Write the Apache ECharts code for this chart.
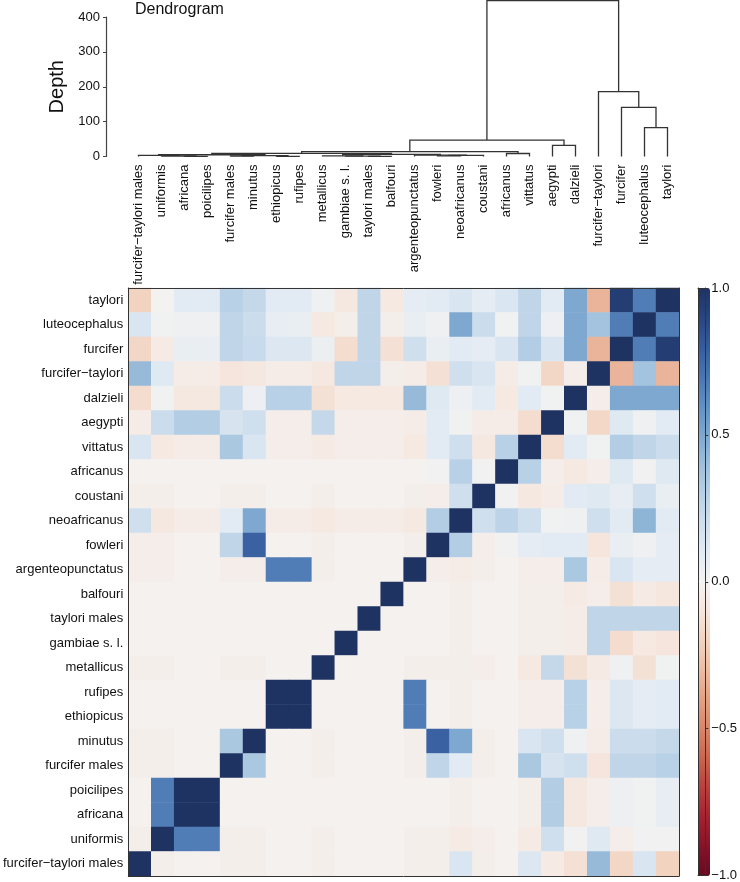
<!DOCTYPE html>
<html><head><meta charset="utf-8">
<script src="https://cdn.jsdelivr.net/npm/echarts@6/dist/echarts.min.js"></script>
<style>html,body{margin:0;padding:0;background:#fff}#c{width:740px;height:882px}</style>
</head><body><div id="c"></div>
<script>
// categories: left-to-right on x, bottom-to-top on y
const categories = ['furcifer−taylori males','uniformis','africana','poicilipes','furcifer males','minutus','ethiopicus','rufipes','metallicus','gambiae s. l.','taylori males','balfouri','argenteopunctatus','fowleri','neoafricanus','coustani','africanus','vittatus','aegypti','dalzieli','furcifer−taylori','furcifer','luteocephalus','taylori'];

// correlation rows, listed top row (taylori) to bottom row (furcifer-taylori males); columns follow `categories`
const corr = [
 [-0.2,0.0,0.1,0.1,0.3,0.25,0.1,0.1,0.03,-0.08,0.27,-0.07,0.08,0.1,0.15,0.08,0.14,0.27,0.1,0.5,-0.33,0.95,0.67,1.0],
 [0.15,0.02,0.03,0.03,0.27,0.22,0.07,0.06,-0.07,-0.03,0.27,-0.03,0.06,0.03,0.5,0.22,0.02,0.27,0.04,0.5,0.38,0.67,1.0,0.67],
 [-0.18,-0.06,0.06,0.06,0.27,0.23,0.13,0.13,0.05,-0.15,0.27,-0.13,0.2,0.06,0.1,0.08,0.15,0.32,0.15,0.5,-0.33,1.0,0.67,0.95],
 [0.42,0.12,-0.05,-0.05,-0.1,-0.08,-0.05,-0.05,-0.08,0.27,0.27,-0.03,-0.05,-0.13,0.2,0.15,-0.05,0.02,-0.18,-0.04,1.0,-0.33,0.38,-0.33],
 [-0.15,0.02,-0.08,-0.08,0.22,0.04,0.3,0.3,-0.12,-0.07,-0.07,-0.07,0.42,0.12,0.04,0.1,-0.07,0.1,0.02,1.0,-0.04,0.5,0.5,0.5],
 [-0.05,0.22,0.32,0.32,0.16,0.2,-0.04,-0.04,0.25,-0.04,-0.04,-0.04,-0.05,0.1,0.02,-0.05,-0.05,-0.15,1.0,0.02,-0.17,0.12,0.03,0.1],
 [0.15,-0.07,-0.05,-0.05,0.35,0.15,-0.04,-0.04,-0.06,-0.04,-0.04,-0.04,-0.07,0.1,0.2,-0.08,0.3,1.0,-0.15,0.1,0.02,0.32,0.27,0.22],
 [-0.01,-0.01,-0.01,-0.01,-0.01,-0.01,-0.01,-0.01,-0.01,-0.01,-0.01,-0.01,-0.01,0.01,0.3,0.01,1.0,0.3,-0.04,-0.07,-0.04,0.12,0.01,0.12],
 [-0.03,-0.03,-0.01,-0.01,-0.03,-0.03,-0.01,-0.01,-0.03,-0.01,-0.01,-0.01,-0.03,-0.04,0.2,1.0,0.01,-0.08,-0.05,0.1,0.12,0.07,0.2,0.06],
 [0.2,-0.08,-0.05,-0.05,0.1,0.5,-0.05,-0.05,-0.07,-0.05,-0.05,-0.05,-0.07,0.32,1.0,0.2,0.28,0.2,0.02,0.03,0.2,0.1,0.45,0.1],
 [-0.04,-0.04,-0.01,-0.01,0.27,0.78,-0.01,-0.01,-0.03,-0.01,-0.01,-0.01,-0.03,1.0,0.32,-0.04,0.01,0.08,0.1,0.1,-0.1,0.06,0.03,0.08],
 [-0.04,-0.04,-0.01,-0.01,-0.04,-0.04,0.67,0.67,-0.03,-0.01,-0.01,-0.01,1.0,-0.04,-0.05,-0.03,-0.01,-0.04,-0.04,0.35,-0.05,0.15,0.08,0.08],
 [-0.01,-0.01,-0.01,-0.01,-0.01,-0.01,-0.01,-0.01,-0.01,-0.01,-0.01,1.0,-0.01,-0.01,-0.03,-0.01,-0.01,-0.03,-0.03,-0.06,-0.04,-0.12,-0.06,-0.09],
 [-0.01,-0.01,-0.01,-0.01,-0.01,-0.01,-0.01,-0.01,-0.01,-0.01,1.0,-0.01,-0.01,-0.01,-0.03,-0.01,-0.01,-0.03,-0.03,-0.05,0.27,0.27,0.27,0.27],
 [-0.01,-0.01,-0.01,-0.01,-0.01,-0.01,-0.01,-0.01,-0.01,1.0,-0.01,-0.01,-0.01,-0.01,-0.03,-0.01,-0.01,-0.03,-0.03,-0.05,0.27,-0.15,-0.07,-0.1],
 [-0.03,-0.03,-0.01,-0.01,-0.03,-0.03,-0.01,-0.01,1.0,-0.01,-0.01,-0.01,-0.03,-0.03,-0.03,-0.04,-0.01,-0.07,0.25,-0.12,-0.06,0.03,-0.12,0.02],
 [-0.01,-0.01,-0.01,-0.01,-0.01,-0.01,1.0,1.0,-0.01,-0.01,-0.01,-0.01,0.67,-0.01,-0.03,-0.01,-0.01,-0.04,-0.04,0.3,-0.04,0.13,0.08,0.1],
 [-0.01,-0.01,-0.01,-0.01,-0.01,-0.01,1.0,1.0,-0.01,-0.01,-0.01,-0.01,0.67,-0.01,-0.03,-0.01,-0.01,-0.04,-0.04,0.3,-0.04,0.13,0.08,0.1],
 [-0.03,-0.03,-0.01,-0.01,0.35,1.0,-0.01,-0.01,-0.03,-0.01,-0.01,-0.01,-0.03,0.78,0.5,-0.03,-0.01,0.15,0.2,0.03,-0.05,0.22,0.22,0.25],
 [-0.03,-0.03,-0.01,-0.01,1.0,0.35,-0.01,-0.01,-0.03,-0.01,-0.01,-0.01,-0.03,0.27,0.1,-0.03,-0.01,0.35,0.16,0.2,-0.1,0.27,0.27,0.3],
 [-0.01,0.67,1.0,1.0,-0.01,-0.01,-0.01,-0.01,-0.01,-0.01,-0.01,-0.01,-0.01,-0.01,-0.03,-0.01,-0.01,-0.03,0.32,-0.08,-0.04,0.04,0.02,0.07],
 [-0.01,0.67,1.0,1.0,-0.01,-0.01,-0.01,-0.01,-0.01,-0.01,-0.01,-0.01,-0.01,-0.01,-0.03,-0.01,-0.01,-0.03,0.32,-0.08,-0.04,0.04,0.02,0.07],
 [-0.03,1.0,0.67,0.67,-0.03,-0.03,-0.01,-0.01,-0.03,-0.01,-0.01,-0.01,-0.03,-0.03,-0.06,-0.04,-0.01,-0.06,0.2,0.01,0.12,-0.04,0.01,0.01],
 [1.0,-0.03,-0.01,-0.01,-0.03,-0.03,-0.01,-0.01,-0.03,-0.01,-0.01,-0.01,-0.03,-0.03,0.15,-0.03,-0.01,0.13,-0.06,-0.13,0.42,-0.18,0.15,-0.2]
];

// dendrogram merges: leaves 0..23, merged nodes numbered 24.. in order
const mergeLeft  = [2,1,0,6,4,28,26,10,9,8,13,34,12,33,30,16,38,18,40,22,21,20,42];
const mergeRight = [3,24,25,7,5,27,29,11,31,32,14,15,35,36,37,17,39,19,41,23,43,44,45];
const mergeDepth = [0.5,1.5,3.5,0.5,1.5,2.5,5,0.5,1,2,2,3,4,6,9,8.6,14,32,47,83,141,186,447];

const depthTicks = [0,100,200,300,400];
const colorTicks = [-1,-0.5,0,0.5,1];
const palette = ['#650a22','#861328','#a5222f','#b8403c','#c9644f','#d8856a','#e3a083','#ecbca2','#f2d3c0','#f5e5dc','#f4f2f1','#e2ebf3','#cfdfee','#b9d1e6','#9dbfdc','#7ea8cf','#6190c4','#4a75b2','#365c9e','#284680','#1f3363'];

const n = categories.length;
const heat = [];
corr.forEach((row, r) => row.forEach((v, c) => heat.push([c, n - 1 - r, v])));

const nodeX = categories.map((_, i) => i);
const nodeH = categories.map(() => 0);
const links = [];
mergeLeft.forEach((a, k) => {
  const b = mergeRight[k], h = mergeDepth[k];
  links.push([nodeX[a], nodeX[b], nodeH[a], nodeH[b], h]);
  nodeX.push((nodeX[a] + nodeX[b]) / 2);
  nodeH.push(h);
});

const font = "'Liberation Sans', Arial, Helvetica, sans-serif";
const txt = '#111';
const frameLine = {show: true, onZero: false, lineStyle: {color: '#333', width: 1}};
const minus = v => (Math.abs(v) < 1e-9 ? 0 : v).toFixed(1).replace('-', '−');

const chart = echarts.init(document.getElementById('c'), null, {renderer: 'canvas'});
chart.setOption({
  animation: false,
  textStyle: {fontFamily: font},
  title: {text: 'Dendrogram', left: 135, top: 2, padding: 0,
    textStyle: {fontSize: 16, fontWeight: 'normal', color: txt, fontFamily: font}},
  grid: [
    {left: 127, top: 17, width: 552, height: 139.5},
    {left: 127, top: 288, width: 552, height: 588},
    {left: 698, top: 288, width: 12, height: 588}
  ],
  xAxis: [
    {type: 'category', gridIndex: 0, data: categories, position: 'bottom',
      axisLine: {show: false, onZero: false}, axisTick: {show: false},
      axisLabel: {rotate: 90, fontSize: 13, color: txt, margin: 8, interval: 0, fontFamily: font}},
    {type: 'value', gridIndex: 0, min: -0.5, max: n - 0.5, show: false, axisLine: {onZero: false}},
    {type: 'category', gridIndex: 1, data: categories, position: 'bottom', axisLine: frameLine,
      axisTick: {show: false}, axisLabel: {show: false}, z: 10},
    {type: 'category', gridIndex: 1, data: categories, position: 'top', axisLine: frameLine,
      axisTick: {show: false}, axisLabel: {show: false}, z: 10},
    {type: 'category', gridIndex: 2, data: [''], position: 'bottom', axisLine: frameLine,
      axisTick: {show: false}, axisLabel: {show: false}, z: 10},
    {type: 'category', gridIndex: 2, data: [''], position: 'top', axisLine: frameLine,
      axisTick: {show: false}, axisLabel: {show: false}, z: 10}
  ],
  yAxis: [
    {type: 'value', gridIndex: 0, min: depthTicks[0], max: depthTicks[depthTicks.length - 1],
      interval: depthTicks[1] - depthTicks[0], offset: 21, position: 'left',
      name: 'Depth', nameLocation: 'middle', nameGap: 38,
      nameTextStyle: {fontSize: 20, color: txt, fontFamily: font},
      axisLine: {show: true, onZero: false, lineStyle: {color: '#444', width: 1.2}},
      axisTick: {show: true, length: 3, lineStyle: {color: '#444'}},
      axisLabel: {fontSize: 13, color: txt, margin: 6, fontFamily: font},
      splitLine: {show: false}},
    {type: 'category', gridIndex: 1, data: categories, position: 'left', axisLine: frameLine,
      axisTick: {show: false}, axisLabel: {fontSize: 13, color: txt, margin: 5, interval: 0, fontFamily: font}, z: 10},
    {type: 'category', gridIndex: 1, data: categories, position: 'right', axisLine: frameLine,
      axisTick: {show: false}, axisLabel: {show: false}, z: 10},
    {type: 'value', gridIndex: 2, min: colorTicks[0], max: colorTicks[colorTicks.length - 1],
      interval: colorTicks[1] - colorTicks[0], position: 'right', axisLine: frameLine,
      axisTick: {show: true, length: 3, lineStyle: {color: '#333'}},
      axisLabel: {fontSize: 13, color: txt, margin: 6, formatter: minus, fontFamily: font},
      splitLine: {show: false}, z: 10},
    {type: 'category', gridIndex: 2, data: [''], position: 'left', axisLine: frameLine,
      axisTick: {show: false}, axisLabel: {show: false}, z: 10}
  ],
  visualMap: {type: 'continuous', min: -1, max: 1, dimension: 2, seriesIndex: 1,
    calculable: false, orient: 'vertical', left: 698, top: 288, itemWidth: 12, itemHeight: 588,
    padding: 0, inRange: {color: palette}, hoverLink: false},
  series: [
    {type: 'custom', xAxisIndex: 1, yAxisIndex: 0, clip: false, silent: true, data: links,
      renderItem: function (params, api) {
        const xl = api.value(0), xr = api.value(1), hl = api.value(2), hr = api.value(3), h = api.value(4);
        return {type: 'polyline', shape: {points: [api.coord([xl, hl]), api.coord([xl, h]), api.coord([xr, h]), api.coord([xr, hr])]},
          style: {stroke: '#333', lineWidth: 1.3, fill: null}};
      }},
    {type: 'heatmap', xAxisIndex: 2, yAxisIndex: 1, data: heat, silent: true,
      itemStyle: {borderWidth: 0}, emphasis: {disabled: true}}
  ]
});
</script></body></html>
